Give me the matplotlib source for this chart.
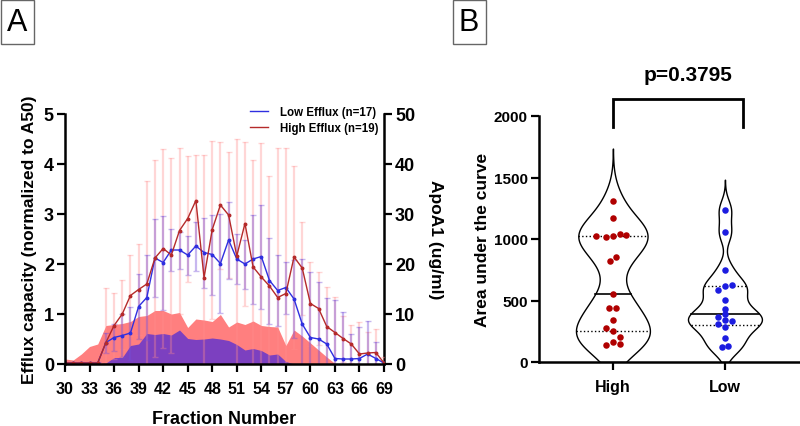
import numpy as np
import matplotlib
matplotlib.use('Agg')
import matplotlib.pyplot as plt
from matplotlib.patches import Rectangle
from matplotlib.lines import Line2D

plt.rcParams['font.family'] = ['Liberation Sans', 'DejaVu Sans']
plt.rcParams['font.weight'] = 'bold'

# ---- panel A data (fractions 30..69) ----
fractions = list(range(30, 70))

high_mean = [0.02, 0.02, 0.02, 0.02, 0.02, 0.43, 0.77, 1.00, 1.37, 1.49,
             1.60, 2.12, 2.31, 2.18, 2.67, 2.91, 3.27, 1.73, 2.69, 3.18,
             2.98, 2.16, 2.81, 1.94, 1.74, 1.56, 1.33, 1.41, 2.14, 1.92,
             1.21, 1.11, 0.75, 0.63, 0.51, 0.40, 0.20, 0.22, 0.23, 0.02]
high_sd = [0.05, 0.05, 0.05, 0.05, 0.05, 1.10, 0.66, 0.69, 0.81, 0.91,
           2.07, 1.97, 1.99, 1.95, 1.66, 1.26, 0.91, 2.46, 1.78, 1.27,
           1.25, 2.34, 1.64, 2.14, 2.68, 2.21, 2.98, 2.92, 1.83, 0.93,
           0.84, 0.73, 0.80, 0.72, 0.46, 0.38, 0.65, 0.43, 0.47, 0.13]

low_mean = [0.02, 0.02, 0.02, 0.02, 0.02, 0.43, 0.53, 0.57, 0.62, 1.15,
            1.33, 2.12, 2.03, 2.28, 2.28, 2.18, 2.36, 2.23, 2.19, 2.01,
            2.48, 2.10, 2.00, 2.10, 2.15, 1.67, 1.47, 1.53, 1.30, 0.80,
            0.53, 0.50, 0.40, 0.11, 0.10, 0.10, 0.11, 0.20, 0.11, 0.02]
low_sd = [0.03, 0.03, 0.03, 0.03, 0.03, 0.20, 0.27, 0.43, 0.53, 0.65,
          0.85, 0.78, 0.94, 0.42, 0.37, 0.39, 0.49, 0.70, 0.80, 0.99,
          0.77, 0.50, 0.49, 0.89, 1.04, 0.86, 0.71, 0.52, 0.78, 1.30,
          1.32, 1.15, 0.93, 1.18, 0.95, 0.50, 0.64, 0.67, 0.34, 0.03]

# ApoA1 (ug/ml), right axis
high_apoa1 = [1.0, 0.8, 2.0, 3.5, 4.0, 7.7, 7.9, 8.1, 8.5, 9.5,
              9.7, 10.7, 10.7, 10.0, 10.3, 7.3, 9.0, 8.8, 8.5, 9.9,
              7.4, 8.4, 7.9, 8.6, 7.7, 7.5, 7.4, 3.7, 6.8, 5.6,
              4.2, 2.8, 1.4, 0.1, 0.0, 0.0, 0.0, 0.0, 0.0, 0.0]
low_apoa1 = [0.0, 0.0, 0.0, 0.0, 0.0, 0.2, 1.3, 1.3, 3.7, 4.0,
             6.1, 5.9, 6.1, 5.8, 6.8, 5.1, 4.9, 5.0, 5.2, 5.0,
             4.7, 3.9, 2.8, 3.1, 2.7, 1.8, 2.0, 0.5, 0.0, 0.0,
             0.0, 0.0, 0.0, 0.0, 0.0, 0.0, 0.0, 0.0, 0.0, 0.0]

# ---- panel B data ----
groups = ['High', 'Low']
high_auc = [1311, 1170, 1027, 1019, 1027, 1041, 1032, 824, 857, 554,
            438, 438, 338, 276, 251, 203, 141, 162, 149]
high_jit = [0, 0, -0.155, -0.066, 0, 0.06, 0.12, -0.03, 0.03, 0,
            -0.036, 0.03, 0, -0.066, 0, 0.06, -0.066, 0, 0.06]
low_auc = [1238, 1054, 749, 589, 616, 622, 505, 432, 392, 365,
           343, 330, 311, 284, 195, 122, 130]
low_jit = [0, 0, 0, -0.0625, 0, 0.065, 0, 0, 0, -0.0625,
           0, 0.065, -0.0625, 0, 0, -0.03, 0.03]
p_text = 'p=0.3795'

RED = '#b52a2a'
BLUE = '#2f2fe0'

fig = plt.figure(figsize=(8, 4.27), dpi=100)

# ================= Panel A =================
ax = fig.add_axes([65/800, 1-365/427, (384-65)/800, 250/427])
ax2 = ax.twinx()

ax2.fill_between(fractions, high_apoa1, color='#ff7f7f', lw=0, zorder=1)
ax2.fill_between(fractions, low_apoa1, color='#7c40c0', lw=0, zorder=2)
ax2.set_ylim(0, 50)
ax2.set_yticks([0, 10, 20, 30, 40, 50])

ax.set_zorder(ax2.get_zorder() + 1)
ax.patch.set_visible(False)

ax.errorbar(fractions, high_mean, yerr=high_sd, fmt='none',
            ecolor=(1.0, 0.55, 0.55, 0.35), elinewidth=1.6, capsize=2.5, capthick=1)
ax.errorbar(fractions, low_mean, yerr=low_sd, fmt='none',
            ecolor=(0.45, 0.3, 0.85, 0.4), elinewidth=1.6, capsize=2.5, capthick=1)
ax.plot(fractions, low_mean, color=BLUE, lw=1, marker='o', ms=1.8)
ax.plot(fractions, high_mean, color=RED, lw=1, marker='o', ms=1.8)

ax.set_xlim(30, 69)
ax.set_ylim(0, 5)
ax.set_xticks(range(30, 70, 3))
ax.set_yticks([0, 1, 2, 3, 4, 5])

for a in (ax, ax2):
    a.spines['top'].set_visible(False)
    for s in ('left', 'right', 'bottom'):
        a.spines[s].set_linewidth(1.8)
ax.spines['right'].set_visible(False)
ax2.spines['left'].set_visible(False)
ax2.spines['bottom'].set_visible(False)

ax.tick_params(axis='y', length=6, width=1.6, labelsize=13, pad=2)
ax.tick_params(axis='x', length=6, width=1.6, labelsize=11.5, pad=6)
ax2.tick_params(axis='y', length=6, width=1.6, labelsize=13, pad=2)

ax.set_xlabel('Fraction Number', fontsize=13, fontweight='bold', va='center')
ax.xaxis.set_label_coords(0.5, -0.22)
ax.set_ylabel('Efflux capacity (normalized to A50)', fontsize=12.5, fontweight='bold', va='center')
ax.yaxis.set_label_coords(-0.11, 0.5)
ax2.set_ylabel('ApoA1 (ug/ml)', fontsize=12.5, fontweight='bold', rotation=270, va='center')
ax2.yaxis.set_label_coords(1.16, 0.5)

handles = [Line2D([], [], color=BLUE, lw=1), Line2D([], [], color=RED, lw=1)]
ax.legend(handles, ['Low Efflux (n=17)', 'High Efflux (n=19)'], frameon=False,
          loc='upper left', bbox_to_anchor=((250-65)/319, 1.03), borderaxespad=0,
          borderpad=0, handlelength=1.6, handletextpad=1.0, labelspacing=0.3,
          prop={'size': 8.3, 'weight': 'bold'})

# ================= Panel B =================
bx = fig.add_axes([539/800, 1-363/427, 261/800, 246/427])


def kde(vals, grid, bw):
    vals = np.asarray(vals, float)
    d = (grid[:, None] - vals[None, :]) / bw
    return np.exp(-0.5 * d**2).sum(axis=1)


def silverman(vals):
    vals = np.asarray(vals, float)
    sd = vals.std(ddof=1)
    iqr = np.subtract(*np.percentile(vals, [75, 25]))
    return 0.9 * min(sd, iqr / 1.34) * len(vals) ** (-0.2)


half_w = 0.33
for pos, vals, jit, col in ((1, high_auc, high_jit, '#b00000'), (2, low_auc, low_jit, '#1c1ce0')):
    bw = silverman(vals) * 0.7
    grid = np.linspace(0, max(vals) + 3.0 * bw, 400)
    dens = kde(vals, grid, bw)
    w = dens / dens.max() * half_w
    bx.fill_betweenx(grid, pos - w, pos + w, facecolor='white', edgecolor='black', lw=1, zorder=1)
    q1, med, q3 = np.percentile(vals, [25, 50, 75], method='weibull')
    for q, ls in ((q1, ':'), (med, '-'), (q3, ':')):
        wq = np.interp(q, grid, w)
        bx.plot([pos - wq, pos + wq], [q, q], color='black', ls=ls,
                lw=1.2 if ls == '-' else 1, zorder=2)
    bx.scatter(pos + np.asarray(jit), vals, s=22, color=col, zorder=3, lw=0)

bx.set_xlim(0.34, 2.67)
bx.set_ylim(0, 2000)
bx.set_xticks([1, 2])
bx.set_xticklabels(groups)
bx.set_yticks([0, 500, 1000, 1500, 2000])
for s in ('top', 'right'):
    bx.spines[s].set_visible(False)
for s in ('left', 'bottom'):
    bx.spines[s].set_linewidth(1.8)
bx.tick_params(length=6, width=1.6, labelsize=11, pad=2)
bx.tick_params(axis='x', pad=6, labelsize=11.5)
bx.set_ylabel('Area under the curve', fontsize=12.5, fontweight='bold', va='center')
bx.yaxis.set_label_coords(-0.215, 0.5)

# significance bracket
bx.plot([1.0, 1.0, 2.16, 2.16], [1910, 2138, 2138, 1910], color='black', lw=2,
        clip_on=False, solid_joinstyle='miter')
bx.text(1.67, 2341, p_text, ha='center', va='center', fontsize=15, fontweight='bold')

# panel letters
for x0, letter in ((0, 'A'), (452, 'B')):
    fig.add_artist(Rectangle((x0/800 + 0.001, 1 - 45/427), 33/800, 44/427,
                             transform=fig.transFigure, fill=False, edgecolor='#666666', lw=1))
    fig.text((x0 + 17)/800, 1 - 23/427, letter, ha='center', va='center',
             fontsize=22, fontweight='normal')

fig.savefig('out.png', dpi=100)
